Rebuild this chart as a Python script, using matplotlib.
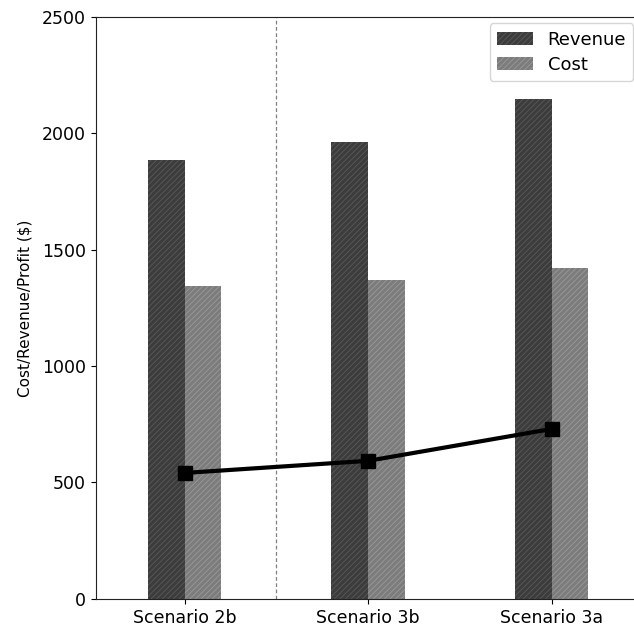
import matplotlib
matplotlib.use("Agg")
import matplotlib.pyplot as plt
import numpy as np

scenarios = ["Scenario 2b", "Scenario 3b", "Scenario 3a"]
revenue = [1885, 1962, 2150]
cost = [1345, 1370, 1422]
profit = [541, 593, 730]

plt.rcParams["font.family"] = ["DejaVu Sans"]
plt.rcParams["hatch.linewidth"] = 0.6

fig = plt.figure(figsize=(6.34, 6.33), dpi=100)
ax = fig.add_axes([0.151, 0.054, 0.858, 0.919])

x = np.arange(len(scenarios))
w = 0.2

ax.bar(x - w / 2, revenue, width=w, color="#3c3c3c", edgecolor="#5a5a5a",
       hatch="//////", linewidth=0, label="Revenue")
ax.bar(x + w / 2, cost, width=w, color="#7c7c7c", edgecolor="#9a9a9a",
       hatch="//////", linewidth=0, label="Cost")

ax.plot(x, profit, color="black", lw=3, marker="s", markersize=10, zorder=5)

ax.axvline(0.5, color="#808080", lw=0.9, ls=(0, (3, 2)))

ax.set_xlim(-0.485, 2.48)
ax.set_ylim(0, 2500)
ax.set_xticks(x)
ax.set_xticklabels(scenarios, fontsize=12.5)
ax.set_yticks([0, 500, 1000, 1500, 2000, 2500])
ax.tick_params(axis="y", labelsize=12.5)
ax.set_ylabel("Cost/Revenue/Profit ($)", fontsize=11, labelpad=7)

for s in ax.spines.values():
    s.set_color("#222222")

ax.legend(loc="upper right", fontsize=13, frameon=True, borderaxespad=0.35,
          labelspacing=0.4)

fig.savefig("out.png", dpi=100)
